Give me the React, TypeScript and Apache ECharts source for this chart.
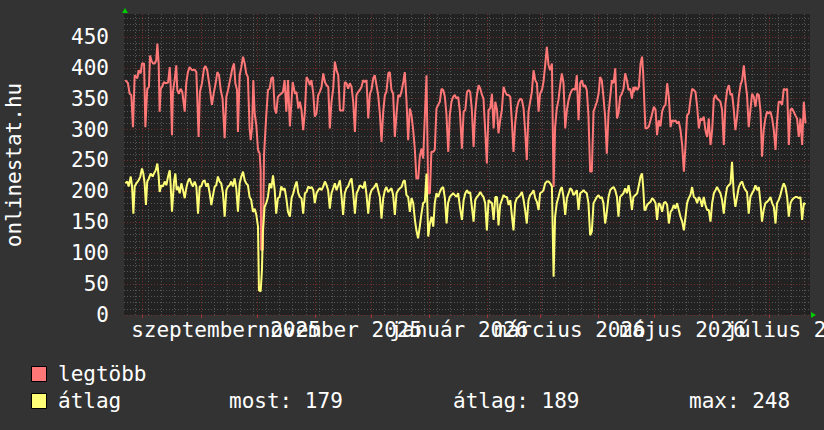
import React, { useEffect, useRef } from 'react';
import * as echarts from 'echarts';

const FONT = '"DejaVu Sans Mono", monospace';

// day 0 = 2025-07-22; x axis in days
const X_MAX = 366;
const Y_MAX = 487;
const monthStarts = [10, 41, 71, 102, 132, 163, 194, 222, 253, 283, 314, 344];
const labelDaysA = [54.4, 178.7, 298];
const labelTextsA = ['szeptember 2025', 'január 2026', 'május 2026'];
const labelDaysB = [115.2, 237.9, 357.9];
const labelTextsB = ['november 2025', 'március 2026', 'július 2026'];
const yTicks = [0, 50, 100, 150, 200, 250, 300, 350, 400, 450];
const yMinor = [10, 20, 30, 40, 60, 70, 80, 90, 110, 120, 130, 140, 160, 170, 180, 190, 210, 220, 230, 240, 260, 270, 280, 290, 310, 320, 330, 340, 360, 370, 380, 390, 410, 420, 430, 440, 460, 470, 480];
const weekLines: number[] = [];
for (let d = 6; d < X_MAX; d += 7) weekLines.push(d);

const seriesNames = ['legtöbb', 'átlag'];
const seriesColors = ['#ff7777', '#ffff77'];
const legendStats = ['most: 179', 'átlag: 189', 'max: 248'];

const legtobb: [number, number][] = [
  [0.7,380],[2.1,375],[3.0,358],[3.9,356],[4.8,304],[5.7,388],[7.1,383],[7.8,396],[8.9,391],[9.6,407],[10.7,407],[11.4,304],[12.4,366],[13.3,369],[13.9,420],[14.6,412],[15.5,407],[16.4,407],[17.2,412],[17.8,439],[18.5,407],[19.0,329],[19.6,366],[20.3,369],[21.3,377],[22.2,375],[23.5,376],[24.4,401],[24.9,372],[25.6,291],[26.1,361],[27.0,380],[27.9,404],[28.4,364],[29.3,358],[30.2,366],[31.1,361],[32.4,329],[33.2,375],[34.1,393],[35.0,401],[36.3,396],[37.7,397],[38.6,393],[39.8,288],[40.5,361],[41.6,375],[42.7,399],[43.4,403],[44.4,396],[45.7,369],[46.9,340],[48.0,361],[48.9,375],[49.8,393],[50.7,388],[51.6,364],[52.6,350],[53.7,286],[54.6,353],[55.5,364],[56.9,385],[57.8,399],[58.7,407],[59.4,375],[60.3,364],[60.8,296],[61.7,388],[62.6,401],[63.5,418],[64.4,407],[65.2,391],[66.1,385],[67.0,302],[67.6,283],[68.3,302],[69.0,380],[69.7,326],[70.6,307],[71.5,267],[72.4,261],[72.9,234],[73.2,105],[74.1,105],[74.7,259],[75.9,323],[76.8,364],[77.7,366],[78.6,383],[79.5,385],[80.4,334],[81.2,326],[82.1,353],[83.0,356],[83.9,358],[84.8,361],[85.7,380],[86.6,329],[87.5,380],
  [88.5,305],[90.0,377],[91.2,358],[92.0,361],[93.0,334],[93.8,345],[94.7,332],[95.6,299],[96.5,329],[97.4,385],[98.3,380],[99.2,372],[100.0,380],[101.0,358],[101.8,321],[102.7,326],[103.6,356],[104.5,361],[105.4,369],[106.3,391],[107.2,377],[108.0,372],[109.0,369],[109.8,302],[110.7,345],[111.6,366],[112.5,410],[113.4,396],[114.3,388],[115.2,331],[116.0,331],[117.0,331],[117.8,377],[118.7,375],[119.6,366],[120.5,375],[121.4,369],[122.3,345],[123.2,296],[124.0,356],[125.0,361],[125.8,364],[126.7,369],[127.6,380],[128.5,377],[129.4,380],[130.3,318],[131.2,358],[132.0,364],[133.0,383],[133.8,388],[134.7,372],[135.6,356],[136.5,326],[137.4,280],[138.3,329],[139.2,356],[140.0,361],[141.0,391],[141.8,393],[142.7,364],[143.6,358],[144.5,288],[145.4,326],[146.3,356],[147.2,353],[148.0,361],[149.0,377],[149.8,393],[150.7,348],[151.6,283],[152.5,334],[153.4,323],[154.3,299],[155.2,267],[156.0,221],[157.0,221],[157.8,256],[158.7,269],[159.6,253],[160.5,321],[161.4,388],[162.3,197],[163.2,197],[164.0,264],[165.0,264],[165.8,267],[166.7,334],[167.6,340],[168.5,345],[169.4,366],[170.3,364],[171.2,353],[172.0,326],[173.0,264],[173.8,323],[174.7,345],[175.6,353],[176.5,356],[177.4,350],[178.3,353],[179.2,329],
  [180.3,269],[181.2,329],[182.1,332],[183.0,361],[183.8,364],[184.7,361],[185.6,332],[186.5,272],[187.4,329],[188.3,356],[189.2,372],[190.1,366],[191.0,356],[191.8,350],[192.7,299],[193.6,245],[194.5,332],[195.4,334],[196.3,358],[197.2,302],[198.1,345],[199.0,332],[199.8,294],[200.7,315],[201.6,332],[202.5,369],[203.4,361],[204.3,356],[205.2,356],[206.1,353],[207.0,310],[207.8,264],[208.7,310],[209.6,334],[210.5,345],[211.4,350],[212.3,348],[213.2,334],[214.0,299],[214.9,251],[215.8,329],[216.7,345],[217.6,361],[218.5,396],[219.4,380],[220.3,375],[221.2,329],[222.0,358],[223.0,364],[223.8,377],[224.7,404],[225.6,434],[226.5,404],[227.4,396],[228.3,407],[229.2,207],[230.0,304],[230.9,334],[231.8,348],[232.7,372],[233.6,391],[234.5,375],[235.4,302],[236.3,332],[237.2,348],[238.1,358],[239.0,364],[239.8,366],[240.7,364],[241.6,388],[242.5,315],[243.4,375],[244.3,380],[245.2,369],[246.0,372],[246.9,364],[247.8,323],[248.7,232],[249.6,232],[250.5,329],[251.4,337],[252.3,345],[253.2,358],[254.0,385],[254.9,380],[255.8,353],[256.7,321],[257.6,261],[258.5,326],[259.4,353],[260.3,380],[261.2,375],[262.1,399],[263.0,318],[263.8,326],[264.7,353],[265.6,358],[266.5,366],[267.4,391],[268.3,380],[269.2,364],[270.1,366],[271.0,350],[271.8,369],
  [272.0,361],[272.9,369],[273.8,364],[274.7,369],[275.6,407],[276.4,418],[277.0,391],[277.7,337],[278.2,302],[279.1,302],[280.0,305],[280.9,315],[281.8,326],[282.7,337],[283.6,332],[284.4,291],[285.3,315],[286.2,305],[287.1,329],[288.0,337],[288.9,340],[289.8,375],[290.7,353],[291.6,304],[292.4,315],[293.3,313],[294.2,315],[295.1,310],[296.0,313],[296.9,299],[297.8,275],[298.7,232],[299.6,275],[300.4,323],[301.3,326],[302.2,348],[303.1,366],[304.0,364],[304.9,361],[305.8,337],[306.7,302],[307.6,318],[308.4,315],[309.3,321],[310.2,299],[311.1,288],[312.0,318],[312.9,275],[313.8,299],[314.7,350],[315.6,356],[316.4,350],[317.3,348],[318.2,345],[319.1,332],[320.0,275],[320.9,342],[321.8,364],[322.7,372],[323.6,356],[324.4,358],[325.3,334],[326.2,299],[327.1,321],[328.0,353],[328.9,372],[329.8,380],[330.7,404],[331.6,375],[332.4,356],[333.3,304],[334.2,332],[335.1,358],[336.0,353],[336.9,337],[337.8,358],[338.7,356],[339.6,329],[340.4,256],[341.3,299],[342.2,318],[343.1,329],[344.0,326],[344.9,329],[345.8,318],[346.7,299],[347.6,267],[348.4,313],[349.3,345],[350.2,345],[351.1,340],[352.0,366],[352.9,364],[353.8,366],[354.7,275],[355.6,332],[356.4,334],[357.3,329],[358.2,323],[359.1,318],[360.0,288],[360.9,318],[361.8,275],[362.7,345],[363.6,310]
];

const atlag: [number, number][] = [
  [0.7,213],[1.8,216],[2.5,208],[3.6,224],[4.3,208],[5.0,164],[5.7,208],[6.6,213],[7.8,218],[8.7,224],[9.6,237],[10.3,229],[11.0,213],[11.7,178],[12.4,216],[13.3,221],[14.2,229],[15.3,224],[16.0,229],[16.9,234],[17.8,245],[18.5,224],[19.0,199],[19.9,210],[20.8,208],[21.7,216],[22.6,210],[23.5,224],[24.4,234],[24.9,210],[25.6,167],[26.7,216],[27.4,229],[28.1,202],[28.8,208],[29.7,197],[30.6,213],[31.5,202],[32.4,189],[33.2,205],[34.1,216],[35.0,221],[35.9,213],[36.8,208],[37.7,216],[38.6,208],[39.5,164],[40.4,208],[41.2,208],[42.1,216],[43.0,218],[43.9,208],[44.8,213],[45.7,197],[46.6,178],[47.5,194],[48.4,208],[49.2,210],[50.1,224],[51.0,216],[51.9,213],[52.8,197],[53.7,159],[54.6,202],[55.5,208],[56.4,210],[57.2,216],[58.1,208],[59.0,221],[59.9,205],[60.8,167],[61.7,213],[62.6,224],[63.5,232],[64.4,218],[65.2,213],[66.1,210],[67.0,191],[67.9,186],[68.8,167],[69.7,172],[70.6,162],[71.5,143],[72.0,40],[72.9,38],[73.6,73],[74.1,135],[75.0,175],[75.9,181],[76.8,191],[77.7,213],[78.6,205],[79.5,226],[80.4,202],[81.2,164],[82.1,189],[83.0,191],[83.9,208],[84.8,202],[85.7,205],[86.6,189],[87.5,167],
  [88.5,159],[89.4,189],[90.3,197],[91.2,208],[92.1,216],[93.0,197],[93.8,191],[94.7,189],[95.6,164],[96.5,197],[97.4,199],[98.3,208],[99.2,205],[100.1,207],[101.0,202],[101.8,181],[102.7,197],[103.6,202],[104.5,205],[105.4,202],[106.3,208],[107.2,216],[108.1,210],[108.9,202],[109.8,172],[110.7,197],[111.6,205],[112.5,213],[113.4,202],[114.3,210],[115.2,218],[116.1,191],[116.9,162],[117.8,197],[118.7,205],[119.6,208],[120.5,216],[121.4,221],[122.3,197],[123.2,164],[124.1,197],[124.9,202],[125.8,210],[126.7,208],[127.6,205],[128.5,216],[129.4,194],[130.3,164],[131.2,194],[132.1,202],[133.0,205],[133.8,208],[134.7,213],[135.6,202],[136.5,191],[137.4,156],[138.3,189],[139.2,202],[140.0,207],[140.9,199],[141.8,202],[142.7,205],[143.6,194],[144.5,162],[145.4,197],[146.3,202],[147.2,205],[148.1,207],[149.0,216],[149.8,218],[150.7,194],[151.6,191],[152.5,167],[153.4,189],[154.3,181],[155.2,154],[156.0,137],[156.9,124],[157.8,143],[158.7,164],[159.6,181],[160.5,183],[161.4,229],[162.3,127],[163.2,148],[164.1,159],[165.0,143],[165.8,181],[166.7,197],[167.6,191],[168.5,199],[169.4,205],[170.3,207],[171.2,189],[172.1,148],[172.9,181],[173.8,191],[174.7,194],[175.6,197],[176.5,194],[177.4,191],[178.3,197],[179.2,175],
  [180.3,154],[181.2,186],[182.1,197],[183.0,202],[183.8,197],[184.7,199],[185.6,175],[186.5,151],[187.4,186],[188.3,191],[189.2,194],[190.1,199],[191.0,194],[191.8,191],[192.7,181],[193.6,137],[194.5,186],[195.4,183],[196.3,181],[197.2,154],[198.1,191],[199.0,191],[199.8,145],[200.7,178],[201.6,186],[202.5,194],[203.4,191],[204.3,191],[205.2,178],[206.1,186],[207.0,159],[207.8,137],[208.7,181],[209.6,189],[210.5,191],[211.4,194],[212.3,199],[213.2,186],[214.0,170],[214.9,148],[215.8,186],[216.7,194],[217.6,197],[218.5,202],[219.4,189],[220.3,183],[221.2,170],[222.0,197],[223.0,199],[223.8,202],[224.7,213],[225.6,216],[226.5,216],[227.4,213],[228.3,208],[229.2,62],[230.0,159],[230.9,181],[231.8,191],[232.7,202],[233.6,207],[234.5,191],[235.4,162],[236.3,189],[237.2,197],[238.1,205],[239.0,202],[239.8,194],[240.7,197],[241.6,202],[242.5,170],[243.4,197],[244.3,199],[245.2,202],[246.0,199],[246.9,197],[247.8,181],[248.7,129],[249.6,135],[250.5,181],[251.4,186],[252.3,191],[253.2,194],[254.0,189],[254.9,191],[255.8,181],[256.7,148],[257.6,167],[258.5,191],[259.4,202],[260.3,205],[261.2,207],[262.1,202],[263.0,191],[263.8,159],[264.7,191],[265.6,194],[266.5,197],[267.4,205],[268.3,197],[269.2,210],[270.1,194],[271.0,170],[271.8,191],
  [272.0,191],[272.9,194],[273.8,197],[274.7,210],[275.6,224],[276.4,229],[277.0,207],[277.7,170],[278.2,170],[279.1,178],[280.0,181],[280.9,183],[281.8,189],[282.7,186],[283.6,181],[284.4,154],[285.3,181],[286.2,178],[287.1,167],[288.0,181],[288.9,183],[289.8,178],[290.7,148],[291.6,167],[292.4,170],[293.3,178],[294.2,172],[295.1,181],[296.0,170],[296.9,159],[297.8,151],[298.7,137],[299.6,159],[300.4,181],[301.3,189],[302.2,194],[303.1,207],[304.0,191],[304.9,189],[305.8,181],[306.7,191],[307.6,186],[308.4,175],[309.3,191],[310.2,178],[311.1,170],[312.0,170],[312.9,151],[313.8,181],[314.7,197],[315.6,202],[316.4,207],[317.3,202],[318.2,197],[319.1,186],[320.0,164],[320.9,191],[321.8,207],[322.7,210],[323.6,213],[324.4,248],[325.3,197],[326.2,175],[327.1,191],[328.0,207],[328.9,213],[329.8,216],[330.7,207],[331.6,202],[332.4,199],[333.3,164],[334.2,191],[335.1,197],[336.0,202],[336.9,210],[337.8,202],[338.7,207],[339.6,181],[340.4,151],[341.3,170],[342.2,181],[343.1,183],[344.0,186],[344.9,191],[345.8,181],[346.7,175],[347.6,148],[348.4,181],[349.3,186],[350.2,194],[351.1,205],[352.0,213],[352.9,207],[353.8,191],[354.7,159],[355.6,181],[356.4,186],[357.3,189],[358.2,191],[359.1,191],[360.0,189],[360.9,191],[361.8,154],[362.7,181],[363.6,179]
];

function labelFor(days: number[], texts: string[], v: number): string {
  let best = -1;
  let bd = 1e9;
  days.forEach((d, i) => {
    const dd = Math.abs(d - v);
    if (dd < bd) { bd = dd; best = i; }
  });
  return best >= 0 && bd < 1 ? texts[best] : '';
}

export default function App() {
  const ref = useRef<HTMLDivElement>(null);
  useEffect(() => {
    if (!ref.current) return;
    const chart = echarts.init(ref.current, null, { renderer: 'svg' });
    const font = `21px ${FONT}`;
    const majorLine = { color: '#742c2c', type: [1, 2], width: 1 };
    const minorLine = { color: '#555555', type: [1, 2], width: 1 };
    const labelAxis = (days: number[], texts: string[]) => ({
      type: 'value', min: 0, max: X_MAX, position: 'bottom', offset: 0, z: 0,
      axisLine: { show: false },
      axisTick: { show: false, customValues: days },
      axisLabel: {
        show: true, customValues: days, formatter: (v: number) => labelFor(days, texts, v),
        showMinLabel: true, showMaxLabel: true, hideOverlap: false,
        color: '#ffffff', fontSize: 21, fontFamily: FONT, margin: 4,
      },
      splitLine: { show: false },
    });
    const option: any = {
      animation: false,
      backgroundColor: '#333333',
      textStyle: { fontFamily: FONT },
      grid: {
        left: 124, right: 14, top: 14, bottom: 115, show: true, backgroundColor: '#222222', borderWidth: 0,
        containLabel: false, outerBoundsMode: 'none',
      },
      xAxis: [
        {
          type: 'value', min: 0, max: X_MAX, position: 'bottom', z: 1,
          axisLine: { show: false },
          axisTick: { show: true, customValues: monthStarts, length: 3, lineStyle: { color: '#a03434' } },
          axisLabel: { show: false },
          splitLine: { show: true, lineStyle: majorLine },
        },
        {
          type: 'value', min: 0, max: X_MAX, position: 'bottom', z: 0,
          axisLine: { show: false },
          axisTick: { show: false, customValues: weekLines },
          axisLabel: { show: false },
          splitLine: { show: true, lineStyle: minorLine },
        },
        labelAxis(labelDaysA, labelTextsA),
        labelAxis(labelDaysB, labelTextsB),
      ],
      yAxis: [
        {
          type: 'value', min: 0, max: Y_MAX, z: 1,
          axisLine: { show: false },
          axisTick: { show: false, customValues: yTicks },
          axisLabel: { customValues: yTicks, showMinLabel: true, showMaxLabel: true, color: '#ffffff', fontSize: 21, fontFamily: FONT, margin: 15 },
          splitLine: { show: true, lineStyle: majorLine },
        },
        {
          type: 'value', min: 0, max: Y_MAX, position: 'left', z: 0,
          axisLine: { show: false },
          axisTick: { show: false, customValues: yMinor },
          axisLabel: { show: false },
          splitLine: { show: true, lineStyle: minorLine },
        },
      ],
      series: [
        {
          name: seriesNames[0], type: 'line', data: legtobb, xAxisIndex: 0, yAxisIndex: 0,
          showSymbol: false, symbol: 'none', z: 3,
          lineStyle: { color: seriesColors[0], width: 2 },
        },
        {
          name: seriesNames[1], type: 'line', data: atlag, xAxisIndex: 0, yAxisIndex: 0,
          showSymbol: false, symbol: 'none', z: 4,
          lineStyle: { color: seriesColors[1], width: 2 },
        },
      ],
      graphic: [
        { type: 'polygon', shape: { points: [[122, 13], [128, 13], [125, 8]] }, style: { fill: '#00cc00' } },
        { type: 'polygon', shape: { points: [[811, 312], [811, 318], [816, 315]] }, style: { fill: '#00cc00' } },
        { type: 'text', x: 14, y: 165, rotation: Math.PI / 2, style: { text: 'onlinestat.hu', fill: '#ffffff', font, align: 'center', verticalAlign: 'middle' } },
        { type: 'rect', shape: { x: 31.5, y: 366.5, width: 15, height: 15 }, style: { fill: seriesColors[0], stroke: '#000000', lineWidth: 1 } },
        { type: 'rect', shape: { x: 31.5, y: 393.5, width: 15, height: 15 }, style: { fill: seriesColors[1], stroke: '#000000', lineWidth: 1 } },
        { type: 'text', x: 58, y: 374, style: { text: seriesNames[0], fill: '#ffffff', font, verticalAlign: 'middle' } },
        { type: 'text', x: 58, y: 401, style: { text: seriesNames[1], fill: '#ffffff', font, verticalAlign: 'middle' } },
        { type: 'text', x: 229, y: 401, style: { text: legendStats[0], fill: '#ffffff', font, verticalAlign: 'middle' } },
        { type: 'text', x: 453, y: 401, style: { text: legendStats[1], fill: '#ffffff', font, verticalAlign: 'middle' } },
        { type: 'text', x: 689, y: 401, style: { text: legendStats[2], fill: '#ffffff', font, verticalAlign: 'middle' } },
      ],
    };
    chart.setOption(option);
    return () => chart.dispose();
  }, []);
  return <div ref={ref} style={{ position: 'fixed', left: 0, top: 0, width: 824, height: 430 }} />;
}
